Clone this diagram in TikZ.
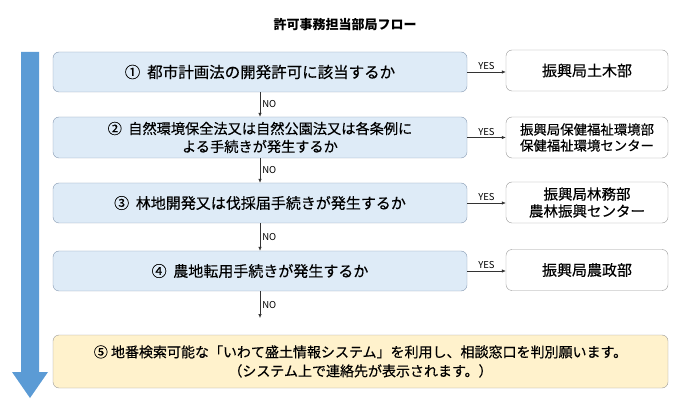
\documentclass[tikz,border=0pt]{standalone}
\usepackage{fontspec}
\setmainfont{Noto Sans CJK JP}[UprightFeatures={FakeBold=0.35}]
\newfontfamily\yesnofont{Noto Sans CJK JP}
\usetikzlibrary{arrows.meta}
\definecolor{flowblue}{HTML}{5B9BD5}
\definecolor{askfill}{HTML}{DEEBF7}
\definecolor{askline}{HTML}{8497B0}
\definecolor{endfill}{HTML}{FFF2CC}
\definecolor{grayline}{HTML}{9A9A9A}

\begin{document}
\begin{tikzpicture}[
  x=1pt, y=-1pt,
  % boxes: questions left, offices right
  ask/.style={draw=askline, fill=askfill, rounded corners=6pt, minimum width=414pt,
    minimum height=40pt, align=center, inner sep=0pt},
  office/.style={draw=grayline, fill=white, rounded corners=6pt, minimum width=162pt,
    minimum height=41pt, align=center, inner sep=0pt},
  flow/.style={-{Latex[length=4pt,width=3.5pt]}, line width=0.6pt, draw=black!80},
  tag/.style={font=\yesnofont\fontsize{9.5}{10}\selectfont, inner sep=2pt}
  ]
  \useasboundingbox (0,0) rectangle (690,411);

  % big arrow on the left
  \fill[flowblue] (21,52) -- (39,52) -- (39,372) -- (48,372) -- (30,398)
    -- (12,372) -- (21,372) -- cycle;

  \node[font=\fontsize{13}{15}\selectfont\bfseries] (Title) at (345,25) {許可事務担当部局フロー};

  \node[ask, font=\fontsize{15.5}{18}\selectfont] (CityPlan) at (260,72)
    {①\ \ 都市計画法の開発許可に該当するか};
  \node[ask, minimum height=41pt, font=\fontsize{14.2}{18}\selectfont] (Nature) at (260,137.5)
    {②\ \ 自然環境保全法又は自然公園法又は各条例に\\よる手続きが発生するか};
  \node[ask, font=\fontsize{15}{18}\selectfont] (Forest) at (260,203)
    {③\ \ 林地開発又は伐採届手続きが発生するか};
  \node[ask, font=\fontsize{15}{18}\selectfont] (Farmland) at (260,271)
    {④\ \ 農地転用手続きが発生するか};

  \node[ask, draw=grayline, fill=endfill, minimum width=615pt, minimum height=53pt,
    font=\fontsize{14}{19}\selectfont] (MoridoSystem) at (360.5,361.5)
    {⑤ 地番検索可能な「いわて盛土情報システム」を利用し、相談窓口を判別願います。\\（システム上で連絡先が表示されます。）};

  \node[office, font=\fontsize{15}{18}\selectfont] (Doboku) at (587,70.5) {振興局土木部};
  \node[office, font=\fontsize{13.4}{16}\selectfont] (Hoken) at (587,137.5)
    {振興局保健福祉環境部\\保健福祉環境センター};
  \node[office, font=\fontsize{14.5}{17}\selectfont] (Rinmu) at (587,202.5)
    {振興局林務部\\農林振興センター};
  \node[office, font=\fontsize{15}{18}\selectfont] (Nosei) at (587,270) {振興局農政部};

  \draw[flow] (CityPlan.east) -- node[tag, above] {YES} (CityPlan.east -| Doboku.west);
  \draw[flow] (Nature.east) -- node[tag, above] {YES} (Nature.east -| Hoken.west);
  \draw[flow] (Forest.east) -- node[tag, above] {YES} (Forest.east -| Rinmu.west);
  \draw[flow] (Farmland.east) -- node[tag, above] {YES} (Farmland.east -| Nosei.west);

  \coordinate (LastNo) at (260,318);
  \draw[flow] (CityPlan) -- node[tag, right] {NO} (Nature);
  \draw[flow] (Nature) -- node[tag, right] {NO} (Forest);
  \draw[flow] (Forest) -- node[tag, right] {NO} (Farmland);
  \draw[flow] (Farmland) -- node[tag, right] {NO} (LastNo);

\end{tikzpicture}
\end{document}
